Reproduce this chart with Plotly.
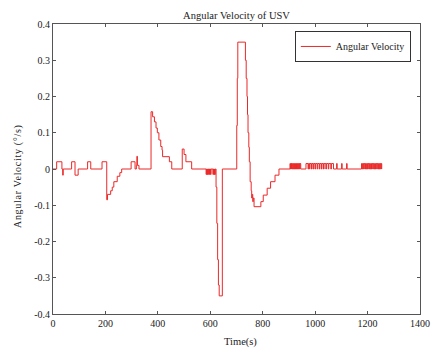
import plotly.graph_objects as go

# Step-held samples: value v holds from time t until the next time
time_s = [0, 14, 34, 37, 39, 71, 84, 96, 132, 144, 187, 205, 208, 220, 226, 232, 245, 255, 262,
          298, 313, 318, 320, 322, 328, 374, 380, 387, 393, 398, 404, 411, 416, 418, 444, 453,
          493, 500, 507, 529,
          584, 586, 588, 590, 591, 593, 597, 599, 601, 603, 610, 612, 614, 616, 617, 619,
          622, 625, 628, 631, 634, 646,
          701, 703, 705, 734, 737, 740, 742, 744, 747, 749, 752, 756, 758, 760, 762, 764, 767,
          793, 802, 817, 830, 847, 862,
          904, 906, 908, 910, 911, 913, 915, 917, 919, 921, 923, 925, 927, 929, 931, 933, 935, 937,
          939, 941, 942, 945,
          965, 973, 975, 979, 980, 986, 988, 993, 995, 1000, 1002, 1008, 1010, 1016, 1018, 1024,
          1026, 1032, 1034, 1041, 1043, 1050, 1052, 1060, 1062, 1070,
          1082, 1084, 1101, 1103, 1120, 1122,
          1177, 1180, 1182, 1185, 1187, 1190, 1192, 1195, 1197, 1200, 1202, 1205, 1207, 1210,
          1212, 1215, 1217, 1220, 1222, 1225, 1227, 1230, 1232, 1235, 1237, 1240, 1242, 1245,
          1247, 1250, 1252, 1254]
omega = [0, .02, 0, -.017, 0, .02, -.017, 0, .02, 0, .02, -.085, -.07, -.06, -.05, -.035, -.02, -.01, 0,
         .02, 0, .01, .035, .01, 0, .158, .144, .13, .113, .1, .08, .062, .052, .034, .02, 0,
         .055, .04, .02, 0,
         -.015, 0, -.015, 0, -.015, 0, -.015, 0, -.015, 0, -.015, 0, -.015, 0, -.015, 0,
         -.05, -.15, -.25, -.32, -.35, 0,
         .12, .25, .35, .3, .25, .2, .15, .1, .06, .02, -.035, -.06, -.08, -.07, -.09, -.08, -.104,
         -.09, -.072, -.053, -.035, -.017, 0,
         .015, 0, .015, 0, .015, 0, .015, 0, .015, 0, .015, 0, .015, 0, .015, 0, .015, 0,
         .015, 0, .015, 0,
         .015, 0, .015, 0, .015, 0, .015, 0, .015, 0, .015, 0, .015, 0, .015, 0,
         .015, 0, .015, 0, .015, 0, .015, 0, .015, 0,
         .015, 0, .015, 0, .015, 0,
         .015, 0, .015, 0, .015, 0, .015, 0, .015, 0, .015, 0, .015, 0,
         .015, 0, .015, 0, .015, 0, .015, 0, .015, 0, .015, 0, .015, 0,
         .015, 0, .015, 0]

x_ticks = [0, 200, 400, 600, 800, 1000, 1200, 1400]
y_ticks = [-0.4, -0.3, -0.2, -0.1, 0, 0.1, 0.2, 0.3, 0.4]
y_tick_text = ["-0.4", "-0.3", "-0.2", "-0.1", "0", "0.1", "0.2", "0.3", "0.4"]

FONT = "Liberation Serif"
AXC = "#555555"
TXT = "#222222"

W, H = 432, 349
L, R, T, B = 53, 12, 24, 35

fig = go.Figure()
fig.add_trace(go.Scatter(x=time_s, y=omega, mode="lines", line_shape="hv",
                         line=dict(color="rgb(235,40,40)", width=1),
                         name="Angular Velocity"))

fig.update_layout(
    width=W, height=H,
    margin=dict(l=L, r=R, t=T, b=B, autoexpand=False),
    paper_bgcolor="white", plot_bgcolor="white",
    font=dict(family=FONT, size=10, color=TXT),
    title=dict(text="Angular Velocity of USV", x=0.5, xref="paper", xanchor="center",
               y=1 - 15 / H, yanchor="middle", automargin=False,
               font=dict(family=FONT, size=10.5, color=TXT)),
    showlegend=True,
    legend=dict(x=0.975, y=0.976, xanchor="right", yanchor="top",
                bgcolor="white", bordercolor="#333", borderwidth=1,
                font=dict(family=FONT, size=10, color=TXT),
                tracegroupgap=0, itemwidth=30),
)
fig.update_xaxes(range=[0, 1400], tickvals=x_ticks, ticks="inside", ticklen=3,
                 tickcolor=AXC, showline=True, linecolor=AXC, linewidth=1, mirror="ticks",
                 showgrid=False, zeroline=False, automargin=False,
                 tickfont=dict(family=FONT, size=10, color=TXT))
fig.update_yaxes(range=[-0.4, 0.4], tickvals=y_ticks, ticktext=y_tick_text, ticks="inside",
                 ticklen=3, tickcolor=AXC, showline=True, linecolor=AXC, linewidth=1,
                 mirror="ticks", showgrid=False, zeroline=False, automargin=False,
                 tickfont=dict(family=FONT, size=10, color=TXT))

# axis titles as annotations for exact placement
fig.add_annotation(text="Time(s)", xref="paper", yref="paper",
                   x=(240 - L) / (W - L - R), y=-(342 - (H - B)) / (H - T - B),
                   xanchor="center", yanchor="middle", showarrow=False,
                   font=dict(family=FONT, size=10.5, color=TXT))
fig.add_annotation(text='<span style="letter-spacing:0.7px">Angular Velocity (°/s)</span>',
                   xref="paper", yref="paper",
                   x=-(L - 18) / (W - L - R), y=((H - B) - 176) / (H - T - B),
                   xanchor="center", yanchor="middle", showarrow=False, textangle=-90,
                   font=dict(family=FONT, size=10, color=TXT))

fig.write_html("out.html", config={"displayModeBar": False},
               post_script="document.body.style.margin='0';document.body.style.overflow='hidden';")
